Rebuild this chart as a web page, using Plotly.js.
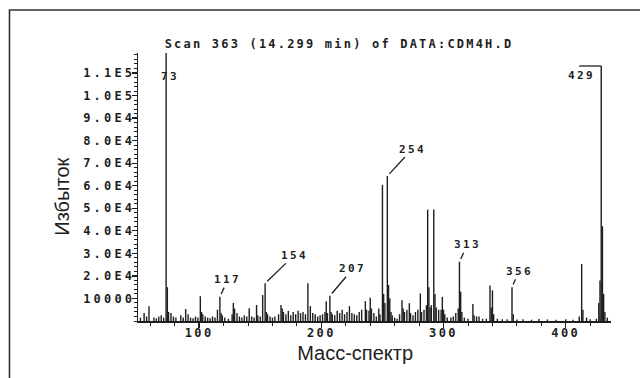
<!DOCTYPE html>
<html>
<head>
<meta charset="utf-8">
<script src="https://cdn.plot.ly/plotly-3.0.1.min.js"></script>
<style>
  html, body { margin: 0; padding: 0; background: #fff; }
  .xtick text { letter-spacing: 2.4px; }
  .ytick text { letter-spacing: 3.2px; }
  .gtitle { letter-spacing: 2.2px; }
  .annotation-text { letter-spacing: 2.4px; }
  g.annotation[data-index="8"] text, g.annotation[data-index="9"] text { letter-spacing: 0; }
</style>
</head>
<body>
<div id="chart" style="width:640px;height:378px;"></div>
<script>
// m/z values of the peaks
const masses = [
  52, 55, 57, 59, 63, 65, 67, 69, 71, 73, 74, 75, 77, 79, 81, 85, 87, 89, 91, 93,
  95, 97, 99, 101, 102, 103, 105, 107, 109, 111, 113, 115, 117, 118, 119, 121, 124, 127, 128, 129,
  131, 133, 135, 137, 139, 141, 143, 145, 147, 148, 150, 152, 154, 155, 156, 158, 160, 162, 165, 167,
  168, 169, 171, 173, 175, 177, 179, 181, 183, 185, 187, 189, 191, 193, 195, 197, 199, 201, 203, 204,
  205, 207, 208, 209, 211, 213, 215, 217, 219, 221, 223, 225, 227, 229, 231, 233, 236, 237, 239, 240,
  241, 243, 245, 247, 248, 250, 251, 252, 254, 255, 256, 257, 258, 260, 262, 264, 266, 267, 268, 270,
  272, 273, 275, 277, 279, 281, 282, 284, 286, 287, 288, 289, 290, 292, 293, 294, 296, 298, 299, 300,
  301, 303, 306, 308, 310, 312, 313, 314, 315, 317, 320, 324, 325, 327, 329, 332, 335, 338, 339, 340,
  341, 344, 348, 352, 356, 357, 360, 365, 372, 378, 385, 392, 400, 406, 411, 413, 414, 417, 420, 425,
  427, 428, 429, 430, 431, 432, 434
];
// abundances
const abundances = [
  1500, 3500, 2000, 6500, 1500, 1200, 2000, 2500, 1500, 120000, 15000, 4000, 3500, 2000, 1500, 2500, 1500, 5300, 3000, 1500,
  1200, 2000, 1500, 11000, 4000, 3000, 2000, 1500, 1200, 2000, 1500, 5000, 10800, 3500, 2500, 1500, 1000, 3000, 8000, 5500,
  3500, 2000, 1500, 2500, 2000, 5600, 2000, 1500, 7100, 2500, 2000, 11500, 16700, 4000, 3000, 2000, 1500, 2000, 3000, 7100,
  5500, 4000, 3000, 4500, 2500, 4000, 3000, 4500, 3500, 4000, 3000, 16700, 6600, 3500, 3000, 2000, 2500, 3000, 4000, 8800,
  3500, 11200, 4000, 3000, 2500, 4500, 3500, 5000, 3000, 4000, 6600, 3500, 3000, 2500, 4000, 5000, 8800, 5000, 4500, 10300,
  5500, 3500, 2000, 5500, 3000, 60400, 12000, 8000, 64300, 16000, 10000, 4000, 2500, 1500, 1000, 3000, 9200, 5500, 4000, 5000,
  7900, 3500, 2500, 4000, 5000, 12200, 4000, 5000, 7000, 49400, 15000, 6000, 7000, 49400, 12000, 6000, 5000, 5000, 10700, 5000,
  3000, 1500, 1500, 2000, 3500, 5500, 26300, 13000, 4000, 1500, 1000, 7500, 2500, 2000, 2000, 1000, 1000, 15700, 6000, 13600,
  3000, 1000, 800, 800, 15000, 3000, 700, 800, 600, 900, 700, 600, 800, 600, 2000, 25300, 5000, 1500, 800, 1000,
  8000, 18000, 113100, 42000, 12000, 4000, 1500
];
// labelled peaks
const labelledMasses = [73, 117, 154, 207, 254, 313, 356, 429];
// y tick values and their printed labels
const yTickValues = [10000, 20000, 30000, 40000, 50000, 60000, 70000, 80000, 90000, 100000, 110000];
const yTickLabels = ["10000", "2.0E4", "3.0E4", "4.0E4", "5.0E4", "6.0E4", "7.0E4", "8.0E4", "9.0E4", "1.0E5", "1.1E5"];
const xTickValues = [100, 200, 300, 400];
const xTickLabels = ["100", "200", "300", "400"];

const chartTitle = "Scan 363 (14.299 min) of DATA:CDM4H.D";
const xTitle = "Масс-спектр";
const yTitle = "Избыток";

const ink = "#1e1e1e";
const mono = {family: "DejaVu Sans Mono, monospace", size: 11, color: ink, weight: "bold"};
const monoTick = {family: "DejaVu Sans Mono, monospace", size: 12, color: ink, weight: "bold"};
const sans = {family: "Liberation Sans, Arial, sans-serif", size: 20, color: ink};

// label offsets (px) from each labelled peak top
const labelOffsets = {
  117: [8, -17],
  154: [29, -28],
  207: [23, -27],
  254: [25, -27],
  313: [8, -17],
  356: [7, -16]
};

function abundanceOf(m) { return abundances[masses.indexOf(m)]; }

const annotations = [];
labelledMasses.forEach(m => {
  if (labelOffsets[m]) {
    annotations.push({
      x: m, y: abundanceOf(m), xref: "x", yref: "y",
      text: String(m), font: mono,
      showarrow: true, arrowhead: 0, arrowwidth: 1.3, arrowcolor: ink,
      ax: labelOffsets[m][0], ay: labelOffsets[m][1], standoff: 3
    });
  }
});
// 73 label at the top, across the peak (index 6)
annotations.push({
  x: 73, y: 1, xref: "x", yref: "paper", text: "73", font: mono,
  showarrow: false, xanchor: "center", yanchor: "middle", xshift: 4, yshift: -23
});
// 429 label left of the peak (index 7)
annotations.push({
  x: 429, y: abundanceOf(429), xref: "x", yref: "y", text: "429", font: mono,
  showarrow: false, xanchor: "right", yanchor: "top", xshift: -4, yshift: -1
});
// axis titles (index 8, 9)
annotations.push({
  x: 0.4588, y: -0.119, xref: "paper", yref: "paper", text: xTitle, font: sans,
  showarrow: false, xanchor: "center", yanchor: "middle"
});
annotations.push({
  x: -0.1607, y: 0.466, xref: "paper", yref: "paper", text: yTitle, font: sans,
  showarrow: false, xanchor: "center", yanchor: "middle", textangle: -90
});

const shapes = [
  // outer frame of the scan
  {type: "rect", xref: "paper", yref: "paper", x0: -0.2717, x1: 1.09, y0: -0.27, y1: 1.1604,
   line: {color: "#333", width: 1.6}, fillcolor: "rgba(0,0,0,0)"},
  // overline from the 429 label to the peak
  {type: "line", xref: "x", yref: "y", x0: 429 - 18, x1: 429, y0: abundanceOf(429), y1: abundanceOf(429),
   line: {color: ink, width: 1.3}}
];

const trace = {
  type: "bar",
  x: masses,
  y: abundances,
  width: 1.15,
  marker: {color: ink, line: {width: 0}},
  hoverinfo: "skip"
};

const layout = {
  width: 640, height: 378,
  margin: {l: 138, r: 29, t: 53, b: 57},
  paper_bgcolor: "#ffffff", plot_bgcolor: "#ffffff",
  showlegend: false,
  title: {
    text: chartTitle,
    font: {family: "DejaVu Sans Mono, monospace", size: 12, color: ink, weight: "bold"},
    xref: "paper", x: 0.425, xanchor: "center",
    yref: "container", y: 0.8836, yanchor: "middle"
  },
  xaxis: {
    range: [50, 437],
    showgrid: false, zeroline: false,
    showline: true, linecolor: ink, linewidth: 1.5,
    ticks: "outside", ticklen: 5, tickwidth: 1.3, tickcolor: ink,
    tickvals: xTickValues, ticktext: xTickLabels,
    tickfont: monoTick, ticklabelstandoff: -5,
    minor: {dtick: 20, tick0: 0, ticks: "outside", ticklen: 3, tickwidth: 1, tickcolor: ink, showgrid: false},
    fixedrange: true
  },
  yaxis: {
    range: [0, 118870],
    showgrid: false, zeroline: false,
    showline: true, linecolor: ink, linewidth: 1.3,
    ticks: "outside", ticklen: 5, tickwidth: 1.3, tickcolor: ink,
    tickvals: yTickValues, ticktext: yTickLabels,
    tickfont: monoTick, ticklabelstandoff: -6,
    minor: {dtick: 2000, tick0: 0, ticks: "outside", ticklen: 3, tickwidth: 1, tickcolor: ink, showgrid: false},
    fixedrange: true
  },
  annotations: annotations,
  shapes: shapes
};

Plotly.newPlot("chart", [trace], layout, {staticPlot: true, displayModeBar: false});
</script>
</body>
</html>
